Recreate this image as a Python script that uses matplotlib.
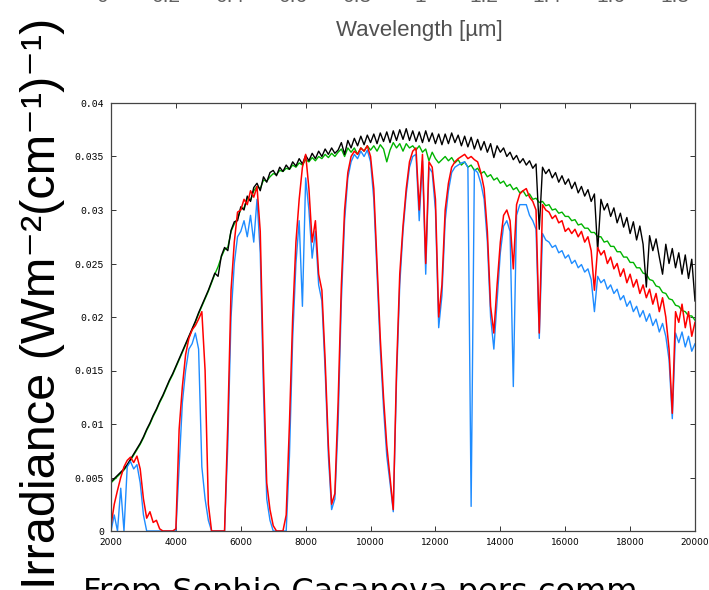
import numpy as np
import matplotlib
matplotlib.use("Agg")
import matplotlib.pyplot as plt

# -------------------------
# 1. Solar irradiance spectra (every 100 cm-1)
# -------------------------
wavenumber = np.arange(2000, 20001, 100)

# top of atmosphere
irr_toa = [
    .0046, .0049, .0052, .0055, .0058, .0062, .0067, .0072, .0077, .0082,
    .0088, .0095, .0101, .0108, .0114, .0121, .0127, .0134, .0141, .0147,
    .0154, .0161, .0168, .0175, .0182, .0189, .0196, .0204, .0211, .0218,
    .0225, .0233, .0241, .0238, .0257, .0265, .0262, .0281, .0289, .0290,
    .0303, .0300, .0313, .0308, .0321, .0325, .0318, .0331, .0326, .0335,
    .0337, .0332, .0340, .0336, .0342, .0338, .0345, .0341, .0348, .0343,
    .0351, .0346, .0353, .0348, .0355, .0350, .0357, .0352, .0358, .0353,
    .0356, .0363, .0352, .0365, .0358, .0367, .0360, .0369, .0361, .0370,
    .0363, .0371, .0362, .0372, .0364, .0373, .0363, .0374, .0365, .0375,
    .0366, .0376, .0365, .0374, .0364, .0373, .0363, .0374, .0364, .0372,
    .0362, .0371, .0361, .0371, .0362, .0372, .0363, .0370, .0360, .0369,
    .0359, .0368, .0357, .0366, .0356, .0364, .0354, .0362, .0349, .0360,
    .0354, .0358, .0350, .0354, .0347, .0351, .0344, .0348, .0342, .0346,
    .0339, .0343, .0282, .0340, .0334, .0338, .0330, .0335, .0326, .0332,
    .0324, .0329, .0320, .0326, .0316, .0322, .0313, .0319, .0308, .0315,
    .0262, .0310, .0300, .0306, .0294, .0302, .0288, .0297, .0284, .0293,
    .0278, .0289, .0272, .0285, .0268, .0228, .0276, .0262, .0273, .0256,
    .0240, .0268, .0250, .0264, .0246, .0260, .0240, .0258, .0236, .0254,
    .0215,
]

# surface, dry case (green)
irr_green = [
    .0045, .0048, .0051, .0054, .0057, .0061, .0066, .0071, .0076, .0081,
    .0087, .0094, .0100, .0107, .0113, .0120, .0126, .0133, .0140, .0146,
    .0153, .0160, .0167, .0174, .0181, .0188, .0195, .0203, .0210, .0217,
    .0224, .0232, .0240, .0247, .0256, .0263, .0265, .0280, .0287, .0292,
    .0301, .0302, .0311, .0309, .0318, .0322, .0320, .0328, .0327, .0331,
    .0334, .0333, .0337, .0336, .0339, .0338, .0342, .0340, .0344, .0342,
    .0347, .0345, .0349, .0346, .0350, .0348, .0352, .0349, .0353, .0350,
    .0354, .0357, .0350, .0358, .0354, .0358, .0352, .0358, .0355, .0360,
    .0356, .0360, .0355, .0361, .0357, .0345, .0356, .0363, .0358, .0362,
    .0355, .0362, .0358, .0360, .0356, .0360, .0354, .0357, .0346, .0354,
    .0348, .0344, .0347, .0350, .0346, .0349, .0344, .0347, .0342, .0345,
    .0340, .0342, .0337, .0339, .0334, .0336, .0331, .0333, .0328, .0330,
    .0325, .0327, .0322, .0324, .0319, .0321, .0316, .0318, .0313, .0315,
    .0310, .0311, .0307, .0308, .0304, .0305, .0300, .0301, .0297, .0298,
    .0294, .0294, .0290, .0291, .0286, .0287, .0283, .0283, .0279, .0279,
    .0275, .0275, .0270, .0271, .0266, .0266, .0261, .0261, .0256, .0256,
    .0251, .0251, .0246, .0246, .0241, .0240, .0235, .0234, .0229, .0228,
    .0223, .0222, .0217, .0216, .0211, .0210, .0206, .0205, .0201, .0201,
    .0197,
]

# surface, humid case (blue)
irr_blue = [
    0, .0015, 0, .0040, 0, .0060, .0065, .0058, .0062, .0045,
    .0015, 0, 0, 0, 0, 0, 0, 0, 0, 0,
    0, .0060, .0120, .0150, .0170, .0175, .0185, .0170, .0060, .0030,
    .0010, 0, 0, 0, 0, 0, .0080, .0200, .0250, .0275,
    .0280, .0290, .0275, .0295, .0270, .0310, .0260, .0130, .0030, .0010,
    0, 0, 0, 0, 0, .0070, .0180, .0250, .0290, .0210,
    .0330, .0300, .0255, .0280, .0230, .0215, .0150, .0070, .0020, .0030,
    .0100, .0215, .0290, .0330, .0345, .0352, .0348, .0355, .0350, .0356,
    .0345, .0310, .0240, .0170, .0115, .0070, .0045, .0018, .0140, .0230,
    .0280, .0315, .0340, .0350, .0352, .0290, .0346, .0240, .0340, .0335,
    .0300, .0190, .0220, .0290, .0318, .0335, .0340, .0342, .0344, .0345,
    .0340, .0023, .0338, .0335, .0325, .0310, .0270, .0200, .0170, .0215,
    .0260, .0285, .0290, .0280, .0135, .0295, .0305, .0305, .0305, .0295,
    .0290, .0282, .0180, .0278, .0272, .0270, .0265, .0267, .0260, .0262,
    .0255, .0258, .0250, .0253, .0246, .0249, .0242, .0245, .0235, .0205,
    .0238, .0232, .0235, .0226, .0230, .0222, .0226, .0216, .0220, .0210,
    .0215, .0205, .0210, .0200, .0206, .0196, .0203, .0192, .0198, .0186,
    .0194, .0182, .0160, .0105, .0185, .0176, .0186, .0172, .0182, .0168,
    .0175,
]

# surface, standard case (red)
irr_red = [
    .0005, .0025, .0038, .0050, .0060, .0066, .0069, .0064, .0070, .0058,
    .0030, .0012, .0018, .0008, .0010, .0002, 0, 0, 0, 0,
    .0002, .0095, .0135, .0165, .0180, .0188, .0192, .0198, .0205, .0150,
    .0025, 0, 0, 0, 0, 0, .0100, .0225, .0270, .0298,
    .0300, .0310, .0305, .0318, .0312, .0322, .0280, .0150, .0045, .0020,
    .0005, 0, 0, 0, .0015, .0100, .0200, .0270, .0310, .0340,
    .0352, .0320, .0270, .0290, .0240, .0225, .0160, .0080, .0025, .0035,
    .0120, .0230, .0300, .0335, .0350, .0355, .0352, .0358, .0355, .0360,
    .0350, .0320, .0250, .0180, .0125, .0080, .0050, .0020, .0150, .0240,
    .0285, .0320, .0345, .0355, .0358, .0300, .0352, .0250, .0345, .0340,
    .0310, .0200, .0230, .0300, .0325, .0340, .0345, .0348, .0350, .0352,
    .0348, .0350, .0347, .0345, .0335, .0320, .0280, .0210, .0185, .0230,
    .0270, .0295, .0300, .0290, .0245, .0305, .0315, .0318, .0320, .0312,
    .0308, .0300, .0185, .0305, .0300, .0298, .0292, .0295, .0288, .0290,
    .0280, .0283, .0278, .0282, .0275, .0280, .0270, .0275, .0262, .0225,
    .0265, .0258, .0262, .0250, .0256, .0245, .0250, .0238, .0245, .0232,
    .0240, .0228, .0235, .0222, .0230, .0218, .0226, .0212, .0222, .0205,
    .0218, .0200, .0170, .0110, .0205, .0195, .0212, .0190, .0205, .0182,
    .0195,
]

x_ticks = [2000, 4000, 6000, 8000, 10000, 12000, 14000, 16000, 18000, 20000]
y_ticks = [0, 0.005, 0.01, 0.015, 0.02, 0.025, 0.03, 0.035, 0.04]
y_tick_labels = ["0", "0.005", "0.01", "0.015", "0.02", "0.025", "0.03", "0.035", "0.04"]
# the wavelength axis of the slide above, mostly cut off
um_tick_labels = ["0", "0.2", "0.4", "0.6", "0.8", "1", "1.2", "1.4", "1.6", "1.8"]

# -------------------------
# 2. Figure
# -------------------------
W, H = 709, 590
fig = plt.figure(figsize=(W / 100, H / 100), dpi=100)
ax = fig.add_axes([111 / W, 1 - 531 / H, 584 / W, 428 / H])

ax.plot(wavenumber, irr_green, color="#00b400", lw=1.0)
ax.plot(wavenumber, irr_toa, color="black", lw=1.0)
ax.plot(wavenumber, irr_blue, color="#1e8cff", lw=1.0)
ax.plot(wavenumber, irr_red, color="#ff0000", lw=1.1)

ax.set_xlim(2000, 20000)
ax.set_ylim(0, 0.04)
ax.set_xticks(x_ticks)
ax.set_xticklabels([str(t) for t in x_ticks], fontsize=6.5, family="DejaVu Sans")
ax.set_yticks(y_ticks)
ax.set_yticklabels(y_tick_labels, fontsize=7, family="Liberation Mono")
ax.tick_params(direction="in", length=3.5, width=0.7, top=True, right=True,
               color="#333333")
ax.tick_params(axis="x", pad=5)
ax.tick_params(axis="y", pad=5)
for s in ax.spines.values():
    s.set_color("#444444")
    s.set_linewidth(0.9)

# slide texts around the plot
for i, lab in enumerate(um_tick_labels):
    fig.text((102 + 63.6 * i) / W, 1 - 1.5 / H, lab, ha="center", va="baseline",
             fontsize=15, family="Liberation Sans", color="#606060")
fig.text(419 / W, 1 - 36 / H, "Wavelength [\u00b5m]", ha="center", va="baseline",
         fontsize=16, family="Liberation Sans", color="#505050")

fig.text(55 / W, 1 - 589 / H,
         "Irradiance (Wm\u207b\u00b2(cm\u207b\u00b9)\u207b\u00b9)",
         rotation=90, rotation_mode="anchor", ha="left", va="baseline",
         fontsize=35, family=["Liberation Sans", "DejaVu Sans"], color="black")

fig.text(83 / W, 1 - 601.5 / H, "From Sophie Casanova pers comm.",
         ha="left", va="baseline", fontsize=23, family="DejaVu Sans", color="black")

fig.savefig("out.png", dpi=100)
